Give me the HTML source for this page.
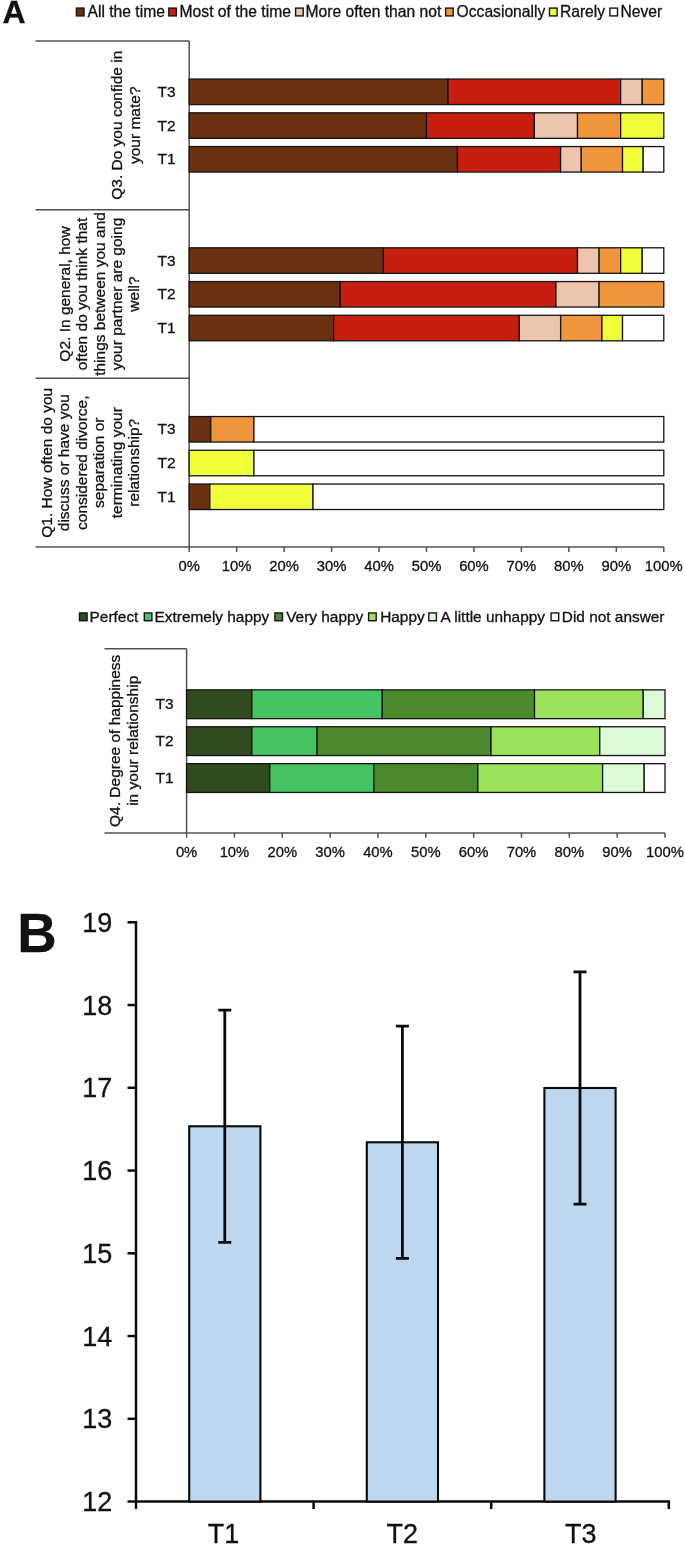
<!DOCTYPE html><html><head><meta charset="utf-8"><title>Figure</title>
<style>html,body{margin:0;padding:0;background:#fff}svg{display:block;will-change:transform}text{font-family:"Liberation Sans",Arial,Helvetica,sans-serif;fill:#111;stroke:#111;stroke-width:0.3px}</style></head><body>
<svg width="685" height="1546" viewBox="0 0 685 1546">
<rect width="685" height="1546" fill="#fff"/>
<text x="2.4" y="23.4" font-size="32" font-weight="bold" fill="#000" stroke="#000" stroke-width="0.4">A</text>
<text transform="translate(17.2 952.3) scale(1 1.02)" font-size="54.6" font-weight="bold" fill="#000" stroke="#000" stroke-width="0.5">B</text>
<rect x="76.4" y="8.1" width="7.6" height="7.8" fill="#6b3012" stroke="#141414" stroke-width="1.4"/>
<text x="87.5" y="17.3" font-size="15.65">All the time</text>
<rect x="168.8" y="8.1" width="7.6" height="7.8" fill="#c81e10" stroke="#141414" stroke-width="1.4"/>
<text x="179.6" y="17.3" font-size="15.65">Most of the time</text>
<rect x="295.6" y="8.1" width="7.6" height="7.8" fill="#edc5ad" stroke="#141414" stroke-width="1.4"/>
<text x="305.6" y="17.3" font-size="15.65">More often than not</text>
<rect x="445.6" y="8.1" width="7.6" height="7.8" fill="#ef963c" stroke="#141414" stroke-width="1.4"/>
<text x="456.6" y="17.3" font-size="15.65">Occasionally</text>
<rect x="549.5" y="8.1" width="7.6" height="7.8" fill="#f1ff3b" stroke="#141414" stroke-width="1.4"/>
<text x="559.9" y="17.3" font-size="15.65">Rarely</text>
<rect x="609.9" y="8.1" width="7.6" height="7.8" fill="#ffffff" stroke="#141414" stroke-width="1.4"/>
<text x="620.5" y="17.3" font-size="15.65">Never</text>
<g stroke="#505050" stroke-width="1.5" fill="none">
<line x1="189.2" y1="40.9" x2="189.2" y2="551.9"/>
<line x1="35.5" y1="40.9" x2="189.2" y2="40.9"/>
<line x1="35.5" y1="209.63" x2="189.2" y2="209.63"/>
<line x1="35.5" y1="378.37" x2="189.2" y2="378.37"/>
<line x1="35.5" y1="547.1" x2="663.8" y2="547.1"/>
<line x1="236.66" y1="547.1" x2="236.66" y2="551.9"/>
<line x1="284.12" y1="547.1" x2="284.12" y2="551.9"/>
<line x1="331.58" y1="547.1" x2="331.58" y2="551.9"/>
<line x1="379.04" y1="547.1" x2="379.04" y2="551.9"/>
<line x1="426.5" y1="547.1" x2="426.5" y2="551.9"/>
<line x1="473.96" y1="547.1" x2="473.96" y2="551.9"/>
<line x1="521.42" y1="547.1" x2="521.42" y2="551.9"/>
<line x1="568.88" y1="547.1" x2="568.88" y2="551.9"/>
<line x1="616.34" y1="547.1" x2="616.34" y2="551.9"/>
<line x1="663.8" y1="547.1" x2="663.8" y2="551.9"/>
</g>
<text x="189.2" y="571.2" font-size="14.8" text-anchor="middle">0%</text>
<text x="236.66" y="571.2" font-size="14.8" text-anchor="middle">10%</text>
<text x="284.12" y="571.2" font-size="14.8" text-anchor="middle">20%</text>
<text x="331.58" y="571.2" font-size="14.8" text-anchor="middle">30%</text>
<text x="379.04" y="571.2" font-size="14.8" text-anchor="middle">40%</text>
<text x="426.5" y="571.2" font-size="14.8" text-anchor="middle">50%</text>
<text x="473.96" y="571.2" font-size="14.8" text-anchor="middle">60%</text>
<text x="521.42" y="571.2" font-size="14.8" text-anchor="middle">70%</text>
<text x="568.88" y="571.2" font-size="14.8" text-anchor="middle">80%</text>
<text x="616.34" y="571.2" font-size="14.8" text-anchor="middle">90%</text>
<text x="663.8" y="571.2" font-size="14.8" text-anchor="middle">100%</text>
<rect x="189.2" y="79.07" width="258.87" height="25.5" fill="#6b3012" stroke="#141414" stroke-width="1.3"/>
<rect x="448.07" y="79.07" width="172.58" height="25.5" fill="#c81e10" stroke="#141414" stroke-width="1.3"/>
<rect x="620.65" y="79.07" width="21.57" height="25.5" fill="#edc5ad" stroke="#141414" stroke-width="1.3"/>
<rect x="642.23" y="79.07" width="21.57" height="25.5" fill="#ef963c" stroke="#141414" stroke-width="1.3"/>
<text x="166.6" y="96.92" font-size="15.5" text-anchor="middle">T3</text>
<rect x="189.2" y="112.82" width="237.3" height="25.5" fill="#6b3012" stroke="#141414" stroke-width="1.3"/>
<rect x="426.5" y="112.82" width="107.86" height="25.5" fill="#c81e10" stroke="#141414" stroke-width="1.3"/>
<rect x="534.36" y="112.82" width="43.15" height="25.5" fill="#edc5ad" stroke="#141414" stroke-width="1.3"/>
<rect x="577.51" y="112.82" width="43.15" height="25.5" fill="#ef963c" stroke="#141414" stroke-width="1.3"/>
<rect x="620.65" y="112.82" width="43.15" height="25.5" fill="#f1ff3b" stroke="#141414" stroke-width="1.3"/>
<text x="166.6" y="130.67" font-size="15.5" text-anchor="middle">T2</text>
<rect x="189.2" y="146.56" width="268.25" height="25.5" fill="#6b3012" stroke="#141414" stroke-width="1.3"/>
<rect x="457.45" y="146.56" width="103.17" height="25.5" fill="#c81e10" stroke="#141414" stroke-width="1.3"/>
<rect x="560.63" y="146.56" width="20.63" height="25.5" fill="#edc5ad" stroke="#141414" stroke-width="1.3"/>
<rect x="581.26" y="146.56" width="41.27" height="25.5" fill="#ef963c" stroke="#141414" stroke-width="1.3"/>
<rect x="622.53" y="146.56" width="20.63" height="25.5" fill="#f1ff3b" stroke="#141414" stroke-width="1.3"/>
<rect x="643.17" y="146.56" width="20.63" height="25.5" fill="#ffffff" stroke="#141414" stroke-width="1.3"/>
<text x="166.6" y="164.41" font-size="15.5" text-anchor="middle">T1</text>
<rect x="189.2" y="247.8" width="194.15" height="25.5" fill="#6b3012" stroke="#141414" stroke-width="1.3"/>
<rect x="383.35" y="247.8" width="194.15" height="25.5" fill="#c81e10" stroke="#141414" stroke-width="1.3"/>
<rect x="577.51" y="247.8" width="21.57" height="25.5" fill="#edc5ad" stroke="#141414" stroke-width="1.3"/>
<rect x="599.08" y="247.8" width="21.57" height="25.5" fill="#ef963c" stroke="#141414" stroke-width="1.3"/>
<rect x="620.65" y="247.8" width="21.57" height="25.5" fill="#f1ff3b" stroke="#141414" stroke-width="1.3"/>
<rect x="642.23" y="247.8" width="21.57" height="25.5" fill="#ffffff" stroke="#141414" stroke-width="1.3"/>
<text x="166.6" y="265.65" font-size="15.5" text-anchor="middle">T3</text>
<rect x="189.2" y="281.55" width="151.01" height="25.5" fill="#6b3012" stroke="#141414" stroke-width="1.3"/>
<rect x="340.21" y="281.55" width="215.73" height="25.5" fill="#c81e10" stroke="#141414" stroke-width="1.3"/>
<rect x="555.94" y="281.55" width="43.15" height="25.5" fill="#edc5ad" stroke="#141414" stroke-width="1.3"/>
<rect x="599.08" y="281.55" width="64.72" height="25.5" fill="#ef963c" stroke="#141414" stroke-width="1.3"/>
<text x="166.6" y="299.4" font-size="15.5" text-anchor="middle">T2</text>
<rect x="189.2" y="315.3" width="144.44" height="25.5" fill="#6b3012" stroke="#141414" stroke-width="1.3"/>
<rect x="333.64" y="315.3" width="185.71" height="25.5" fill="#c81e10" stroke="#141414" stroke-width="1.3"/>
<rect x="519.36" y="315.3" width="41.27" height="25.5" fill="#edc5ad" stroke="#141414" stroke-width="1.3"/>
<rect x="560.63" y="315.3" width="41.27" height="25.5" fill="#ef963c" stroke="#141414" stroke-width="1.3"/>
<rect x="601.9" y="315.3" width="20.63" height="25.5" fill="#f1ff3b" stroke="#141414" stroke-width="1.3"/>
<rect x="622.53" y="315.3" width="41.27" height="25.5" fill="#ffffff" stroke="#141414" stroke-width="1.3"/>
<text x="166.6" y="333.15" font-size="15.5" text-anchor="middle">T1</text>
<rect x="189.2" y="416.54" width="21.57" height="25.5" fill="#6b3012" stroke="#141414" stroke-width="1.3"/>
<rect x="210.77" y="416.54" width="43.15" height="25.5" fill="#ef963c" stroke="#141414" stroke-width="1.3"/>
<rect x="253.92" y="416.54" width="409.88" height="25.5" fill="#ffffff" stroke="#141414" stroke-width="1.3"/>
<text x="166.6" y="434.39" font-size="15.5" text-anchor="middle">T3</text>
<rect x="189.2" y="450.28" width="64.72" height="25.5" fill="#f1ff3b" stroke="#141414" stroke-width="1.3"/>
<rect x="253.92" y="450.28" width="409.88" height="25.5" fill="#ffffff" stroke="#141414" stroke-width="1.3"/>
<text x="166.6" y="468.13" font-size="15.5" text-anchor="middle">T2</text>
<rect x="189.2" y="484.03" width="20.63" height="25.5" fill="#6b3012" stroke="#141414" stroke-width="1.3"/>
<rect x="209.83" y="484.03" width="103.17" height="25.5" fill="#f1ff3b" stroke="#141414" stroke-width="1.3"/>
<rect x="313.01" y="484.03" width="350.79" height="25.5" fill="#ffffff" stroke="#141414" stroke-width="1.3"/>
<text x="166.6" y="501.88" font-size="15.5" text-anchor="middle">T1</text>
<text transform="translate(122.4 125.27) rotate(-90)" font-size="15.5" text-anchor="middle">Q3. Do you confide in</text>
<text transform="translate(139.5 125.27) rotate(-90)" font-size="15.5" text-anchor="middle">your mate?</text>
<text transform="translate(69.7 294) rotate(-90)" font-size="15.5" text-anchor="middle">Q2. In general, how</text>
<text transform="translate(87.1 294) rotate(-90)" font-size="15.5" text-anchor="middle">often do you think that</text>
<text transform="translate(104.5 294) rotate(-90)" font-size="15.5" text-anchor="middle">things between you and</text>
<text transform="translate(121.9 294) rotate(-90)" font-size="15.5" text-anchor="middle">your partner are going</text>
<text transform="translate(139.3 294) rotate(-90)" font-size="15.5" text-anchor="middle">well?</text>
<text transform="translate(51.8 462.73) rotate(-90)" font-size="15.5" text-anchor="middle">Q1. How often do you</text>
<text transform="translate(69.3 462.73) rotate(-90)" font-size="15.5" text-anchor="middle">discuss or have you</text>
<text transform="translate(86.7 462.73) rotate(-90)" font-size="15.5" text-anchor="middle">considered divorce,</text>
<text transform="translate(104.2 462.73) rotate(-90)" font-size="15.5" text-anchor="middle">separation or</text>
<text transform="translate(121.6 462.73) rotate(-90)" font-size="15.5" text-anchor="middle">terminating your</text>
<text transform="translate(139.1 462.73) rotate(-90)" font-size="15.5" text-anchor="middle">relationship?</text>
<rect x="79.5" y="612.95" width="7.6" height="7.8" fill="#2f4b1f" stroke="#141414" stroke-width="1.4"/>
<text x="89.6" y="622" font-size="15.4">Perfect</text>
<rect x="144.3" y="612.95" width="7.6" height="7.8" fill="#45c463" stroke="#141414" stroke-width="1.4"/>
<text x="154.6" y="622" font-size="15.4">Extremely happy</text>
<rect x="274.9" y="612.95" width="7.6" height="7.8" fill="#4a8a2c" stroke="#141414" stroke-width="1.4"/>
<text x="286.2" y="622" font-size="15.4">Very happy</text>
<rect x="368.6" y="612.95" width="7.6" height="7.8" fill="#9be35a" stroke="#141414" stroke-width="1.4"/>
<text x="380.2" y="622" font-size="15.4">Happy</text>
<rect x="428.8" y="612.95" width="7.6" height="7.8" fill="#dcfad5" stroke="#141414" stroke-width="1.4"/>
<text x="440.6" y="622" font-size="15.4">A little unhappy</text>
<rect x="551.1" y="612.95" width="7.6" height="7.8" fill="#ffffff" stroke="#141414" stroke-width="1.4"/>
<text x="561.8" y="622" font-size="15.4">Did not answer</text>
<g stroke="#505050" stroke-width="1.5" fill="none">
<line x1="186.6" y1="648.7" x2="186.6" y2="837.7"/>
<line x1="104.5" y1="648.7" x2="186.6" y2="648.7"/>
<line x1="104.5" y1="832.9" x2="665" y2="832.9"/>
<line x1="234.44" y1="832.9" x2="234.44" y2="837.7"/>
<line x1="282.28" y1="832.9" x2="282.28" y2="837.7"/>
<line x1="330.12" y1="832.9" x2="330.12" y2="837.7"/>
<line x1="377.96" y1="832.9" x2="377.96" y2="837.7"/>
<line x1="425.8" y1="832.9" x2="425.8" y2="837.7"/>
<line x1="473.64" y1="832.9" x2="473.64" y2="837.7"/>
<line x1="521.48" y1="832.9" x2="521.48" y2="837.7"/>
<line x1="569.32" y1="832.9" x2="569.32" y2="837.7"/>
<line x1="617.16" y1="832.9" x2="617.16" y2="837.7"/>
<line x1="665" y1="832.9" x2="665" y2="837.7"/>
</g>
<text x="186.6" y="856.8" font-size="14.8" text-anchor="middle">0%</text>
<text x="234.44" y="856.8" font-size="14.8" text-anchor="middle">10%</text>
<text x="282.28" y="856.8" font-size="14.8" text-anchor="middle">20%</text>
<text x="330.12" y="856.8" font-size="14.8" text-anchor="middle">30%</text>
<text x="377.96" y="856.8" font-size="14.8" text-anchor="middle">40%</text>
<text x="425.8" y="856.8" font-size="14.8" text-anchor="middle">50%</text>
<text x="473.64" y="856.8" font-size="14.8" text-anchor="middle">60%</text>
<text x="521.48" y="856.8" font-size="14.8" text-anchor="middle">70%</text>
<text x="569.32" y="856.8" font-size="14.8" text-anchor="middle">80%</text>
<text x="617.16" y="856.8" font-size="14.8" text-anchor="middle">90%</text>
<text x="665" y="856.8" font-size="14.8" text-anchor="middle">100%</text>
<rect x="186.6" y="689.85" width="65.24" height="28.8" fill="#2f4b1f" stroke="#141414" stroke-width="1.3"/>
<rect x="251.84" y="689.85" width="130.47" height="28.8" fill="#45c463" stroke="#141414" stroke-width="1.3"/>
<rect x="382.31" y="689.85" width="152.22" height="28.8" fill="#4a8a2c" stroke="#141414" stroke-width="1.3"/>
<rect x="534.53" y="689.85" width="108.73" height="28.8" fill="#9be35a" stroke="#141414" stroke-width="1.3"/>
<rect x="643.25" y="689.85" width="21.75" height="28.8" fill="#dcfad5" stroke="#141414" stroke-width="1.3"/>
<text x="164.5" y="709.25" font-size="15.5" text-anchor="middle">T3</text>
<rect x="186.6" y="726.75" width="65.24" height="28.8" fill="#2f4b1f" stroke="#141414" stroke-width="1.3"/>
<rect x="251.84" y="726.75" width="65.24" height="28.8" fill="#45c463" stroke="#141414" stroke-width="1.3"/>
<rect x="317.07" y="726.75" width="173.96" height="28.8" fill="#4a8a2c" stroke="#141414" stroke-width="1.3"/>
<rect x="491.04" y="726.75" width="108.73" height="28.8" fill="#9be35a" stroke="#141414" stroke-width="1.3"/>
<rect x="599.76" y="726.75" width="65.24" height="28.8" fill="#dcfad5" stroke="#141414" stroke-width="1.3"/>
<text x="164.5" y="746.15" font-size="15.5" text-anchor="middle">T2</text>
<rect x="186.6" y="763.65" width="83.2" height="28.8" fill="#2f4b1f" stroke="#141414" stroke-width="1.3"/>
<rect x="269.8" y="763.65" width="104" height="28.8" fill="#45c463" stroke="#141414" stroke-width="1.3"/>
<rect x="373.8" y="763.65" width="104" height="28.8" fill="#4a8a2c" stroke="#141414" stroke-width="1.3"/>
<rect x="477.8" y="763.65" width="124.8" height="28.8" fill="#9be35a" stroke="#141414" stroke-width="1.3"/>
<rect x="602.6" y="763.65" width="41.6" height="28.8" fill="#dcfad5" stroke="#141414" stroke-width="1.3"/>
<rect x="644.2" y="763.65" width="20.8" height="28.8" fill="#ffffff" stroke="#141414" stroke-width="1.3"/>
<text x="164.5" y="783.05" font-size="15.5" text-anchor="middle">T1</text>
<text transform="translate(119.6 740.8) rotate(-90)" font-size="15.5" text-anchor="middle">Q4. Degree of happiness</text>
<text transform="translate(138.2 740.8) rotate(-90)" font-size="15.5" text-anchor="middle">in your relationship</text>
<g stroke="#0a0a0a" stroke-width="2.5" fill="none">
<line x1="136" y1="921.05" x2="136" y2="1509.05"/>
<line x1="127.5" y1="1501.55" x2="670.05" y2="1501.55"/>
<line x1="127.5" y1="922.3" x2="136" y2="922.3"/>
<line x1="127.5" y1="1005.05" x2="136" y2="1005.05"/>
<line x1="127.5" y1="1087.8" x2="136" y2="1087.8"/>
<line x1="127.5" y1="1170.55" x2="136" y2="1170.55"/>
<line x1="127.5" y1="1253.3" x2="136" y2="1253.3"/>
<line x1="127.5" y1="1336.05" x2="136" y2="1336.05"/>
<line x1="127.5" y1="1418.8" x2="136" y2="1418.8"/>
<line x1="313.6" y1="1501.55" x2="313.6" y2="1509.05"/>
<line x1="491.2" y1="1501.55" x2="491.2" y2="1509.05"/>
<line x1="668.8" y1="1501.55" x2="668.8" y2="1509.05"/>
</g>
<text transform="translate(112.2 931.9) scale(1 1.055)" font-size="27" text-anchor="end">19</text>
<text transform="translate(112.2 1014.65) scale(1 1.055)" font-size="27" text-anchor="end">18</text>
<text transform="translate(112.2 1097.4) scale(1 1.055)" font-size="27" text-anchor="end">17</text>
<text transform="translate(112.2 1180.15) scale(1 1.055)" font-size="27" text-anchor="end">16</text>
<text transform="translate(112.2 1262.9) scale(1 1.055)" font-size="27" text-anchor="end">15</text>
<text transform="translate(112.2 1345.65) scale(1 1.055)" font-size="27" text-anchor="end">14</text>
<text transform="translate(112.2 1428.4) scale(1 1.055)" font-size="27" text-anchor="end">13</text>
<text transform="translate(112.2 1511.15) scale(1 1.055)" font-size="27" text-anchor="end">12</text>
<rect x="189.2" y="1126.3" width="71.2" height="375.25" fill="#bdd7ee" stroke="#0a0a0a" stroke-width="2.1"/>
<path d="M224.8 1010.2V1242.4M218.3 1010.2h13M218.3 1242.4h13" stroke="#0a0a0a" stroke-width="2.8" fill="none"/>
<text transform="translate(223.6 1543.2) scale(1 1.055)" font-size="27" text-anchor="middle">T1</text>
<rect x="366.8" y="1142.3" width="71.2" height="359.25" fill="#bdd7ee" stroke="#0a0a0a" stroke-width="2.1"/>
<path d="M402.4 1026.2V1258.4M395.9 1026.2h13M395.9 1258.4h13" stroke="#0a0a0a" stroke-width="2.8" fill="none"/>
<text transform="translate(402.2 1543.2) scale(1 1.055)" font-size="27" text-anchor="middle">T2</text>
<rect x="544.4" y="1088" width="71.2" height="413.55" fill="#bdd7ee" stroke="#0a0a0a" stroke-width="2.1"/>
<path d="M580 971.9V1204.1M573.5 971.9h13M573.5 1204.1h13" stroke="#0a0a0a" stroke-width="2.8" fill="none"/>
<text transform="translate(580.8 1543.2) scale(1 1.055)" font-size="27" text-anchor="middle">T3</text>
</svg></body></html>
